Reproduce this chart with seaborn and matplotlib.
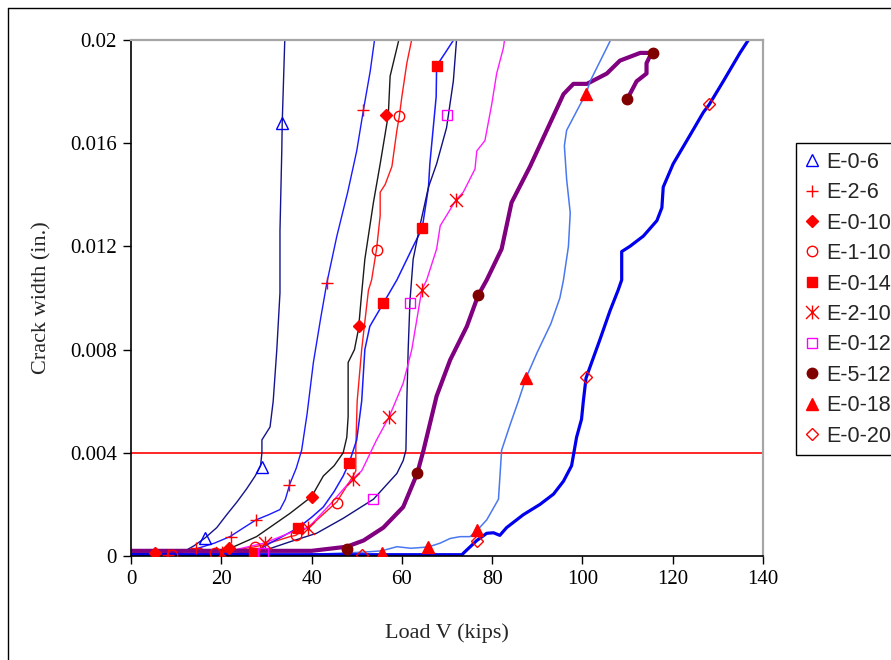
import matplotlib
matplotlib.use("Agg")
import matplotlib.pyplot as plt
import seaborn as sns
from matplotlib.lines import Line2D
from matplotlib.path import Path

# load (kips) vs crack width (in.) traces
x_e06 = [0, 8, 12, 14, 16.4, 19, 21.2, 23.5, 25.6, 27.5, 28.7, 29.0, 29.0, 30.8, 31.5, 32.3, 33.0, 33.0, 33.4, 33.5, 33.8, 34.1]
y_e06 = [0.0001, 0.0001, 0.0002, 0.0004, 0.0007, 0.0011, 0.0016, 0.0021, 0.0026, 0.0031, 0.0035, 0.0040, 0.0045, 0.0050, 0.0060, 0.0080, 0.0102, 0.0126, 0.0157, 0.0168, 0.0185, 0.0202]

x_e26 = [0, 10, 14.8, 18.5, 21.9, 25, 27.7, 30.5, 33.0, 34.2, 35.2, 36.6, 37.8, 39.0, 40.4, 42.0, 43.4, 45.6, 48.0, 50.0, 51.5, 53.0, 54.1]
y_e26 = [0.0001, 0.0001, 0.0003, 0.0005, 0.00075, 0.0011, 0.0014, 0.0016, 0.0018, 0.0022, 0.0028, 0.0034, 0.0041, 0.0055, 0.0075, 0.0092, 0.0106, 0.0124, 0.0141, 0.0157, 0.0173, 0.0188, 0.0202]

x_e010 = [0, 15, 22, 27.8, 31.5, 35.2, 40.0, 42.6, 45.0, 47.0, 47.8, 48.1, 48.1, 49.5, 50.4, 51.0, 51.8, 53.7, 55.2, 57.0, 57.4, 59.6]
y_e010 = [0.0001, 0.0001, 0.0003, 0.00075, 0.0012, 0.00165, 0.0023, 0.0031, 0.0035, 0.0040, 0.0046, 0.0054, 0.0075, 0.0080, 0.0088, 0.0100, 0.0115, 0.0137, 0.0152, 0.0171, 0.0186, 0.0202]

x_e110 = [0, 9, 18.6, 22, 27.5, 29.3, 35.2, 36.5, 40.4, 45.6, 49.2, 49.8, 49.8, 50.1, 51.1, 52.6, 53.3, 54.4, 55.2, 55.2, 56.3, 57.8, 58.9, 59.4, 60.0, 61.1, 62.4]
y_e110 = [0.0, 0.00004, 0.0001, 0.0002, 0.00036, 0.00043, 0.00075, 0.0008, 0.00127, 0.0021, 0.0031, 0.0033, 0.0042, 0.006, 0.008, 0.0103, 0.0107, 0.0119, 0.0132, 0.0141, 0.0144, 0.0151, 0.0165, 0.0170, 0.0178, 0.0191, 0.0202]

x_e014 = [0, 20, 27.2, 30.8, 34, 37.1, 40, 42.6, 45, 47.0, 48.3, 50.0, 51.1, 51.8, 52.9, 55.9, 58.9, 62.5, 64.5, 65.9, 66.2, 67.6, 67.7, 69.6, 72.2]
y_e014 = [0.0, 0.00002, 0.00013, 0.0005, 0.0008, 0.0011, 0.0015, 0.0019, 0.0025, 0.0031, 0.0036, 0.0045, 0.006, 0.008, 0.0089, 0.0098, 0.0107, 0.0120, 0.0127, 0.0143, 0.0152, 0.0178, 0.0190, 0.0195, 0.0202]

x_e012 = [0, 20, 29.3, 35.2, 41.1, 47.0, 53.7, 58.9, 60.3, 60.9, 61.1, 61.4, 61.8, 62.5, 64.0, 65.9, 67.7, 69.9, 71.4, 72.2]
y_e012 = [0.0, 0.00005, 0.0002, 0.00055, 0.00088, 0.00146, 0.0022, 0.0032, 0.0037, 0.0041, 0.0060, 0.0080, 0.0099, 0.0115, 0.0128, 0.0143, 0.0152, 0.0166, 0.0184, 0.0202]

x_e210 = [0, 15, 22, 29.5, 36.7, 39.3, 44.1, 49.1, 51.1, 54.4, 57.2, 60.3, 62.2, 64.4, 65.5, 67.7, 68.5, 72.0, 73.6, 76.2, 76.6, 78.4, 79.9, 81.0, 82.5, 82.9]
y_e210 = [0.0, 0.0001, 0.0002, 0.0005, 0.0010, 0.0011, 0.0020, 0.0030, 0.0033, 0.0045, 0.0054, 0.0067, 0.0080, 0.0103, 0.0107, 0.0119, 0.0128, 0.0138, 0.0141, 0.0150, 0.0157, 0.0161, 0.0175, 0.0187, 0.0197, 0.0202]

x_e512 = [0, 20, 40, 47.8, 51.5, 55.9, 60.3, 63.4, 64.8, 67.7, 70.7, 74.4, 76.9, 78.8, 82.1, 84.3, 88.4, 92.1, 95.8, 98.0, 101.0, 105.4, 108.3, 112.8, 115.3, 114.2, 114.2, 112.0, 110.5, 109.8]
y_e512 = [0.0002, 0.0002, 0.0002, 0.00036, 0.0006, 0.0011, 0.0019, 0.0032, 0.0041, 0.0062, 0.0076, 0.0089, 0.0101, 0.0107, 0.0119, 0.0137, 0.0151, 0.0165, 0.0179, 0.0183, 0.0183, 0.0187, 0.0192, 0.0195, 0.0195, 0.0191, 0.0187, 0.0184, 0.0179, 0.0177]

x_e018 = [0, 30, 45, 51.5, 55.5, 58.9, 62, 65.9, 68.5, 70.7, 72.9, 75.1, 76.7, 78.8, 81.4, 82.1, 84.0, 85.8, 87.5, 90.0, 93.0, 95.0, 95.8, 96.9, 97.3, 96.5, 96.0, 96.5, 99.5, 100.8, 101.7, 105.4, 106.8]
y_e018 = [0.0, 0.0, 0.0001, 0.00015, 0.0002, 0.00036, 0.0003, 0.00035, 0.0005, 0.00068, 0.00075, 0.00075, 0.001, 0.0014, 0.0022, 0.0041, 0.0051, 0.006, 0.0069, 0.0079, 0.0090, 0.0100, 0.0107, 0.0120, 0.0133, 0.0146, 0.0159, 0.0165, 0.0175, 0.0179, 0.0184, 0.0197, 0.0202]

x_e020 = [0, 40, 60, 73.3, 74.0, 76.6, 78.8, 80.3, 81.7, 83.2, 86.9, 90.6, 93.6, 95.8, 97.6, 98.2, 98.7, 99.8, 100.2, 100.8, 103.9, 106.1, 107.9, 108.7, 108.7, 110.5, 113.5, 116.5, 117.6, 117.9, 120.1, 123.8, 126.8, 128.1, 131.2, 134.9, 137.5]
y_e020 = [0.00005, 0.00005, 0.00005, 0.00005, 0.00017, 0.0006, 0.00088, 0.0009, 0.0008, 0.0011, 0.0016, 0.0020, 0.0024, 0.0029, 0.0035, 0.0041, 0.0046, 0.0053, 0.0060, 0.0069, 0.0084, 0.0095, 0.0103, 0.0107, 0.0118, 0.0120, 0.0124, 0.0130, 0.0135, 0.0143, 0.0152, 0.0163, 0.0172, 0.0175, 0.0184, 0.0195, 0.0202]

# marker points for each specimen
mx_e06 = [16.4, 29.1, 33.5]
my_e06 = [0.00069, 0.00346, 0.0168]
mx_e26 = [8.3, 14.5, 22.2, 27.7, 35.0, 43.4, 51.5]
my_e26 = [0.00004, 0.0003, 0.00074, 0.0014, 0.00275, 0.0106, 0.0173]
mx_e010 = [5.3, 21.8, 40.0, 50.5, 56.5]
my_e010 = [0.0001, 0.0003, 0.0023, 0.0089, 0.0171]
mx_e110 = [9.0, 18.6, 27.5, 36.5, 45.6, 54.4, 59.4]
my_e110 = [0.00004, 0.0001, 0.00036, 0.0008, 0.00207, 0.01186, 0.01705]
mx_e014 = [27.2, 37.1, 48.3, 55.9, 64.5, 67.7]
my_e014 = [0.00013, 0.0011, 0.0036, 0.0098, 0.0127, 0.0190]
mx_e210 = [20.1, 29.7, 39.3, 49.1, 57.2, 64.4, 72.0]
my_e210 = [0.0001, 0.0005, 0.0011, 0.0030, 0.0054, 0.0103, 0.0138]
mx_e012 = [29.2, 53.7, 61.8, 69.9]
my_e012 = [0.0001, 0.0022, 0.0098, 0.0171]
mx_e512 = [47.9, 63.4, 76.9, 109.8, 115.6]
my_e512 = [0.00026, 0.0032, 0.0101, 0.0177, 0.0195]
mx_e018 = [55.5, 65.9, 76.7, 87.5, 100.8]
my_e018 = [0.0001, 0.00033, 0.0010, 0.0069, 0.0179]
mx_e020 = [51.1, 76.6, 100.8, 128.1]
my_e020 = [0.00004, 0.0006, 0.00694, 0.0175]

labels = ["E-0-6", "E-2-6", "E-0-10", "E-1-10", "E-0-14", "E-2-10", "E-0-12", "E-5-12", "E-0-18", "E-0-20"]
x_ticks = [0, 20, 40, 60, 80, 100, 120, 140]
y_ticks = [0, 0.004, 0.008, 0.012, 0.016, 0.02]
y_tick_labels = ["0", "0.004", "0.008", "0.012", "0.016", "0.02"]
limit = 0.004

sns.set_style("ticks")
plt.rcParams['font.family'] = ['Liberation Serif', 'DejaVu Serif']

fig = plt.figure(figsize=(8.91, 6.6), dpi=100)
ax = fig.add_axes([131 / 891, 104 / 660, 632 / 891, 516 / 660])

curves = [
    (x_e06, y_e06, "#14148c", 1.0),
    (x_e26, y_e26, "#1a1aff", 1.0),
    (x_e010, y_e010, "#1a1a1a", 1.0),
    (x_e110, y_e110, "#ff1a1a", 1.0),
    (x_e014, y_e014, "#1a1aff", 1.1),
    (x_e012, y_e012, "#101080", 1.0),
    (x_e210, y_e210, "#ff1aff", 1.0),
    (x_e512, y_e512, "#800080", 3.0),
    (x_e018, y_e018, "#4a78f0", 1.1),
    (x_e020, y_e020, "#0000ee", 2.3),
]
for cx, cy, col, lw in curves:
    sns.lineplot(x=cx, y=cy, sort=False, estimator=None, color=col,
                 linewidth=lw, ax=ax)

ax.axhline(limit, color="#ff0000", linewidth=1.2, zorder=1.5)

star = Path([(-0.7, -0.7), (0.7, 0.7), (-0.7, 0.7), (0.7, -0.7), (0, -0.75), (0, 0.75)],
            [Path.MOVETO, Path.LINETO, Path.MOVETO, Path.LINETO, Path.MOVETO, Path.LINETO])

marks = [
    (mx_e06, my_e06, "^", 8, "none", "#0000ff"),
    (mx_e26, my_e26, "+", 9, "#ff0000", "#ff0000"),
    (mx_e010, my_e010, "D", 6.5, "#ff0000", "#ff0000"),
    (mx_e110, my_e110, "o", 7.5, "none", "#ff0000"),
    (mx_e014, my_e014, "s", 7, "#ff0000", "#ff0000"),
    (mx_e210, my_e210, star, 10, "#ff0000", "#ff0000"),
    (mx_e012, my_e012, "s", 7.5, "none", "#ff00ff"),
    (mx_e512, my_e512, "o", 7.5, "#800000", "#800000"),
    (mx_e018, my_e018, "^", 8.5, "#ff0000", "#ff0000"),
    (mx_e020, my_e020, "D", 6, "none", "#ff0000"),
]
for (mx, my, m, ms, fc, ec), lab in zip(marks, labels):
    ax.plot(mx, my, linestyle="none", marker=m, markersize=ms,
            markerfacecolor=fc, markeredgecolor=ec, markeredgewidth=1.0,
            label=lab, zorder=5)

ax.set_xlim(0, 140)
ax.set_ylim(0, 0.02)
ax.set_xticks(x_ticks)
ax.set_yticks(y_ticks)
ax.set_yticklabels(y_tick_labels)
ax.tick_params(direction="out", length=6, width=1, labelsize=15, colors="black", pad=4)

for s in ["left", "bottom"]:
    ax.spines[s].set_color("black")
    ax.spines[s].set_linewidth(1.2)
for s in ["top", "right"]:
    ax.spines[s].set_visible(True)
    ax.spines[s].set_color("#a6a6a6")
    ax.spines[s].set_linewidth(1.6)

ax.set_xlabel("Load V (kips)", fontsize=16)
ax.set_ylabel("Crack width (in.)", fontsize=16)
ax.xaxis.set_label_coords(0.5, -(623 - 556) / 516)
ax.yaxis.set_label_coords((51 - 131) / 632, 0.5)

leg = ax.legend(loc="upper left", bbox_to_anchor=(796 / 891, 1 - 143 / 660),
                bbox_transform=fig.transFigure, frameon=True, fancybox=False,
                edgecolor="black", framealpha=1,
                prop={"family": "Liberation Sans", "size": 15.5},
                handlelength=0.7, handletextpad=0.3, labelspacing=0.44,
                borderpad=0.4, borderaxespad=0)
leg.get_frame().set_linewidth(1.0)

# outer chart border
fig.add_artist(Line2D([8 / 891, 8 / 891], [0, 1 - 8 / 660], transform=fig.transFigure,
                      color="black", linewidth=1))
fig.add_artist(Line2D([8 / 891, 1], [1 - 8 / 660, 1 - 8 / 660], transform=fig.transFigure,
                      color="black", linewidth=1))

fig.savefig("out.png", dpi=100)
